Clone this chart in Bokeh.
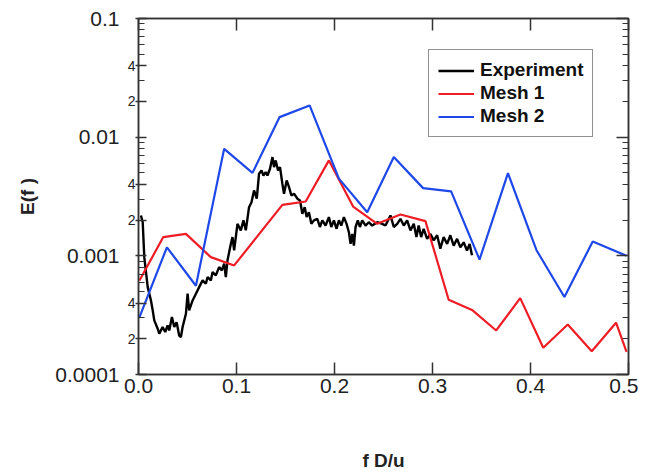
from bokeh.plotting import figure
from bokeh.models import (LogAxis, LinearAxis, FixedTicker, CustomJSTickFormatter,
                          PrintfTickFormatter, Legend, LegendItem, Range1d)
from bokeh.embed import file_html
from bokeh.resources import INLINE

# ---------------- data ----------------
exp_f = [0.0025, 0.0043, 0.0059, 0.0094, 0.0127, 0.0145, 0.0161, 0.0196, 0.0212, 0.0246,
         0.0273, 0.0297, 0.0314, 0.0341, 0.0365, 0.0389, 0.0415, 0.0433, 0.0450, 0.0484,
         0.0501, 0.0517, 0.0552, 0.0586, 0.0619, 0.0654, 0.0687, 0.0705, 0.0738, 0.0756,
         0.0789, 0.0823, 0.0850, 0.0874, 0.0891, 0.0908, 0.0942, 0.0959, 0.0976, 0.1010,
         0.1044, 0.1071, 0.1095, 0.1128, 0.1153, 0.1179, 0.1207, 0.1230, 0.1255, 0.1275,
         0.1298, 0.1316, 0.1342, 0.1367, 0.1383, 0.1400, 0.1424, 0.1444, 0.1468, 0.1485,
         0.1512, 0.1536, 0.1560, 0.1587, 0.1621, 0.1648, 0.1672, 0.1696, 0.1716, 0.1739,
         0.1764, 0.1790, 0.1825, 0.1851, 0.1876, 0.1909, 0.1943, 0.1967, 0.1994, 0.2021,
         0.2045, 0.2069, 0.2096, 0.2123, 0.2147, 0.2164, 0.2181, 0.2198, 0.2215, 0.2238,
         0.2259, 0.2283, 0.2317, 0.2350, 0.2385, 0.2436, 0.2487, 0.2520, 0.2571, 0.2605,
         0.2640, 0.2673, 0.2707, 0.2741, 0.2775, 0.2809, 0.2836, 0.2859, 0.2884, 0.2910,
         0.2945, 0.2979, 0.3012, 0.3047, 0.3080, 0.3114, 0.3149, 0.3182, 0.3216, 0.3251,
         0.3284, 0.3318, 0.3352, 0.3379, 0.3403]
exp_E = [2.19e-3, 1.92e-3, 9.75e-4, 5.45e-4, 4.21e-4, 3.47e-4, 2.86e-4, 2.43e-4, 2.21e-4, 2.51e-4,
         2.28e-4, 2.59e-4, 2.35e-4, 3.05e-4, 2.51e-4, 2.76e-4, 2.13e-4, 2.07e-4, 2.51e-4, 3.25e-4,
         4.80e-4, 3.47e-4, 4.21e-4, 4.80e-4, 5.45e-4, 6.21e-4, 5.82e-4, 6.62e-4, 6.21e-4, 7.29e-4,
         6.84e-4, 8.04e-4, 7.53e-4, 8.58e-4, 6.62e-4, 9.14e-4, 1.26e-3, 1.44e-3, 1.11e-3, 1.86e-3,
         1.64e-3, 1.99e-3, 1.64e-3, 2.57e-3, 2.83e-3, 3.56e-3, 3.03e-3, 4.92e-3, 5.24e-3, 4.75e-3,
         5.07e-3, 4.75e-3, 5.42e-3, 6.79e-3, 5.59e-3, 6.37e-3, 5.24e-3, 5.59e-3, 4.05e-3, 3.34e-3,
         4.32e-3, 3.79e-3, 3.23e-3, 3.34e-3, 3.03e-3, 2.93e-3, 2.26e-3, 2.57e-3, 2.12e-3, 2.33e-3,
         1.86e-3, 1.99e-3, 2.05e-3, 1.75e-3, 1.99e-3, 1.80e-3, 2.12e-3, 1.75e-3, 1.99e-3, 1.69e-3,
         1.99e-3, 1.80e-3, 2.12e-3, 1.86e-3, 1.58e-3, 1.26e-3, 1.53e-3, 1.22e-3, 1.75e-3, 1.99e-3,
         1.75e-3, 1.99e-3, 1.80e-3, 1.92e-3, 1.80e-3, 1.92e-3, 1.86e-3, 1.80e-3, 2.19e-3, 1.75e-3,
         1.86e-3, 2.05e-3, 1.80e-3, 1.99e-3, 1.64e-3, 1.86e-3, 1.44e-3, 1.80e-3, 1.44e-3, 1.69e-3,
         1.39e-3, 1.53e-3, 1.35e-3, 1.49e-3, 1.15e-3, 1.44e-3, 1.26e-3, 1.49e-3, 1.22e-3, 1.39e-3,
         1.18e-3, 1.30e-3, 1.11e-3, 1.26e-3, 1.01e-3]

mesh1_f = [0.001, 0.0253, 0.0484, 0.0738, 0.0976, 0.1468, 0.1706, 0.1943, 0.2190, 0.2436,
           0.2673, 0.2928, 0.3165, 0.3403, 0.3650, 0.3895, 0.4130, 0.4380, 0.4625, 0.4873, 0.4980]
mesh1_E = [6.2e-4, 1.44e-3, 1.53e-3, 9.75e-4, 8.3e-4, 2.69e-3, 2.87e-3, 6.37e-3, 2.6e-3, 1.86e-3,
           2.23e-3, 1.96e-3, 4.27e-4, 3.5e-4, 2.35e-4, 4.4e-4, 1.68e-4, 2.64e-4, 1.57e-4, 2.73e-4, 1.55e-4]

mesh2_f = [0.001, 0.029, 0.0586, 0.0874, 0.1163, 0.144, 0.1746, 0.2045, 0.2334, 0.2605,
           0.2904, 0.319, 0.348, 0.377, 0.406, 0.4346, 0.4635, 0.498]
mesh2_E = [3.05e-4, 1.18e-3, 5.6e-4, 7.98e-3, 5.0e-3, 1.476e-2, 1.85e-2, 4.47e-3, 2.33e-3, 6.8e-3,
           3.72e-3, 3.49e-3, 9.3e-4, 4.98e-3, 1.12e-3, 4.5e-4, 1.32e-3, 1.0e-3]

x_ticks = [0.0, 0.1, 0.2, 0.3, 0.4, 0.5]
decades = [1e-4, 1e-3, 1e-2, 1e-1]
labelled_minor = [2e-4, 4e-4, 2e-3, 4e-3, 2e-2, 4e-2]
all_minor = [m * d for d in [1e-4, 1e-3, 1e-2] for m in [2, 3, 4, 5, 6, 7, 8, 9]]

FONT = "Liberation Sans"
AX = "#333333"

p = figure(frame_width=490, frame_height=356, y_axis_type="log",
           x_range=Range1d(0, 0.5), y_range=Range1d(1e-4, 0.1),
           output_backend="svg", toolbar_location=None,
           min_border_left=138, min_border_top=18, min_border_right=10, min_border_bottom=0)
p.grid.visible = False
p.outline_line_color = AX
p.outline_line_width = 1.5
p.background_fill_color = "white"

# bottom x axis
xa = p.xaxis[0]
xa.ticker = FixedTicker(ticks=x_ticks, minor_ticks=[])
xa.formatter = PrintfTickFormatter(format="%.1f")
xa.major_tick_in = 12
xa.major_tick_out = 0
xa.minor_tick_line_color = None
xa.axis_line_color = AX
xa.axis_line_width = 1.5
xa.major_tick_line_color = AX
xa.major_tick_line_width = 1.5
xa.major_label_text_font = FONT
xa.major_label_text_font_size = "21px"
xa.major_label_text_color = "#222222"
xa.major_label_standoff = 4
xa.axis_label = "f D/u"
xa.axis_label_text_font = FONT
xa.axis_label_text_font_style = "bold"
xa.axis_label_text_font_size = "19px"
xa.axis_label_text_color = "#222222"
xa.axis_label_standoff = 54

# inner left axis: ticks + small "2"/"4" labels
ya = p.yaxis[0]
ya.ticker = FixedTicker(ticks=decades + labelled_minor, minor_ticks=all_minor)
ya.formatter = CustomJSTickFormatter(code="""
const e = Math.floor(Math.log10(tick) + 1e-9);
const m = Math.round(tick / Math.pow(10, e));
return (m == 1) ? '' : String(m);
""")
ya.major_tick_in = 8
ya.major_tick_out = 3
ya.minor_tick_in = 6
ya.minor_tick_out = 0
ya.axis_line_color = AX
ya.axis_line_width = 1.5
ya.major_tick_line_color = AX
ya.major_tick_line_width = 1.5
ya.minor_tick_line_color = AX
ya.minor_tick_line_width = 1.2
ya.major_label_text_font = FONT
ya.major_label_text_font_size = "14px"
ya.major_label_text_color = "#222222"
ya.major_label_standoff = 0

# outer left axis: decade labels
ya2 = LogAxis(ticker=FixedTicker(ticks=decades, minor_ticks=[]),
              formatter=CustomJSTickFormatter(code="""
const e = Math.round(-Math.log10(tick));
return tick.toFixed(e);
"""))
ya2.axis_line_color = None
ya2.major_tick_line_color = None
ya2.minor_tick_line_color = None
ya2.major_tick_in = 0
ya2.major_tick_out = 0
ya2.major_label_standoff = 5
ya2.major_label_text_font = FONT
ya2.major_label_text_font_size = "21px"
ya2.major_label_text_color = "#222222"
ya2.axis_label = "E(f )"
ya2.axis_label_text_font = FONT
ya2.axis_label_text_font_style = "bold"
ya2.axis_label_text_font_size = "19px"
ya2.axis_label_text_color = "#222222"
ya2.axis_label_standoff = 14
p.add_layout(ya2, "left")

# right mirror axis
ra = LogAxis(ticker=FixedTicker(ticks=decades, minor_ticks=all_minor),
             formatter=CustomJSTickFormatter(code="return '';"))
ra.major_tick_in = 12
ra.major_tick_out = 0
ra.minor_tick_in = 6
ra.minor_tick_out = 0
ra.axis_line_color = AX
ra.axis_line_width = 1.5
ra.major_tick_line_color = AX
ra.major_tick_line_width = 1.5
ra.minor_tick_line_color = AX
ra.minor_tick_line_width = 1.2
ra.major_label_text_font_size = "0px"
ra.major_label_standoff = 0
p.add_layout(ra, "right")

# top mirror axis
ta = LinearAxis(ticker=FixedTicker(ticks=x_ticks, minor_ticks=[]),
                formatter=CustomJSTickFormatter(code="return '';"))
ta.major_tick_in = 12
ta.major_tick_out = 0
ta.minor_tick_line_color = None
ta.axis_line_color = AX
ta.axis_line_width = 1.5
ta.major_tick_line_color = AX
ta.major_tick_line_width = 1.5
ta.major_label_text_font_size = "0px"
ta.major_label_standoff = 0
p.add_layout(ta, "above")

r_exp = p.line(exp_f, exp_E, line_color="black", line_width=2.4)
r_m1 = p.line(mesh1_f, mesh1_E, line_color="#ee1c25", line_width=2.2)
r_m2 = p.line(mesh2_f, mesh2_E, line_color="#1f48e8", line_width=2.2)

legend = Legend(items=[LegendItem(label="Experiment", renderers=[r_exp]),
                       LegendItem(label="Mesh 1", renderers=[r_m1]),
                       LegendItem(label="Mesh 2", renderers=[r_m2])],
                location=(290, 237))
legend.label_text_font = FONT
legend.label_text_font_style = "bold"
legend.label_text_font_size = "19px"
legend.label_text_color = "#111111"
legend.border_line_color = "#222222"
legend.border_line_width = 1.5
legend.background_fill_color = "white"
legend.background_fill_alpha = 1.0
legend.glyph_width = 36
legend.glyph_height = 21
legend.label_height = 21
legend.label_standoff = 6
legend.spacing = 1
legend.padding = 9
legend.margin = 0
p.add_layout(legend, "center")

open("out.html", "w").write(file_html(p, INLINE))
